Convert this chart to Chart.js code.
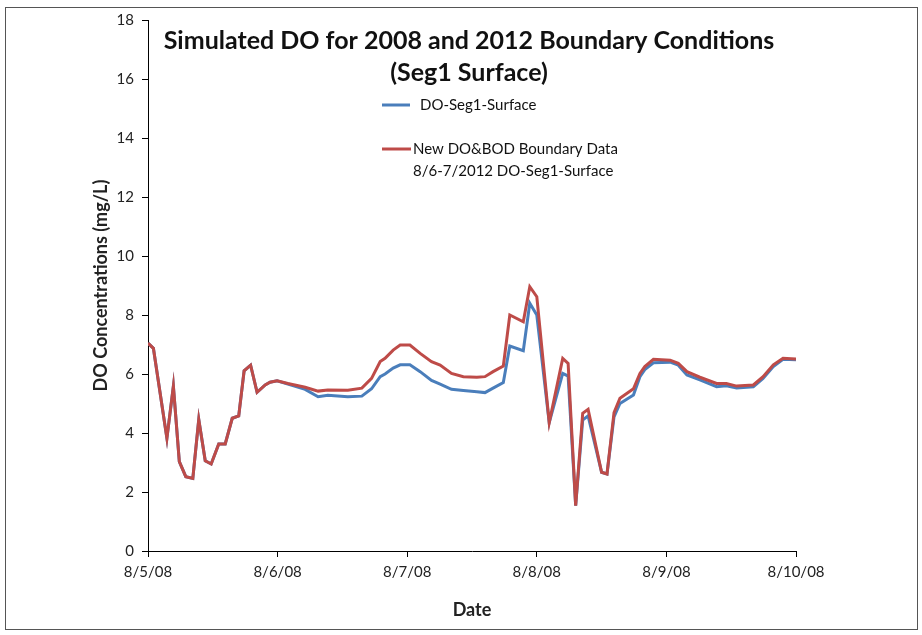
<!DOCTYPE html>
<html>
<head>
<meta charset="utf-8">
<script src="https://cdn.jsdelivr.net/npm/chart.js@4.4.1/dist/chart.umd.min.js"></script>
<style>
  html, body { margin: 0; padding: 0; background: #fff; }
  canvas { display: block; }
</style>
</head>
<body>
<canvas id="doChart" width="922" height="635"></canvas>
<script>
// hours after 8/5/08 00:00, shared by both series
const hours = [0, 1.0, 3.5, 4.7, 5.8, 7.0, 8.3, 9.4, 10.6, 11.7, 13.1, 14.3, 15.6, 16.8, 17.8, 19.0, 20.2,
  21.7, 22.6, 23.9, 25.9, 29.1, 31.5, 33.3, 37.0, 39.6, 41.4, 43.0, 43.9, 45.4, 46.7, 48.5, 50.4,
  52.5, 54.1, 56.2, 58.4, 60.9, 62.4, 63.9, 65.8, 67.0, 69.5, 70.7, 72.0, 74.3, 76.8, 77.8, 79.2,
  80.5, 81.5, 84.0, 85.0, 86.3, 87.4, 89.9, 91.1, 92.0, 93.6, 96.7, 98.2, 99.8, 102.2, 105.3,
  107.1, 109.0, 112.1, 113.9, 115.8, 117.6, 120];

const doSeg1 = [7.05, 6.87, 3.82, 5.59, 3.03, 2.52, 2.46, 4.46, 3.06, 2.95, 3.63, 3.63, 4.5, 4.58, 6.11, 6.3, 5.38,
  5.63, 5.72, 5.77, 5.66, 5.48, 5.23, 5.28, 5.23, 5.25, 5.5, 5.91, 6.0, 6.2, 6.31, 6.31, 6.08,
  5.78, 5.66, 5.48, 5.44, 5.4, 5.37, 5.52, 5.71, 6.95, 6.79, 8.4, 8.0, 4.35, 6.02, 5.93, 1.54,
  4.44, 4.58, 2.67, 2.61, 4.55, 5.0, 5.29, 5.91, 6.15, 6.38, 6.4, 6.3, 5.97, 5.8, 5.57,
  5.6, 5.53, 5.57, 5.85, 6.25, 6.5, 6.48];

const doSeg1New = [7.05, 6.87, 3.82, 5.59, 3.03, 2.52, 2.46, 4.46, 3.06, 2.95, 3.63, 3.63, 4.5, 4.58, 6.11, 6.3, 5.38,
  5.63, 5.72, 5.77, 5.68, 5.55, 5.42, 5.46, 5.45, 5.52, 5.85, 6.42, 6.53, 6.81, 6.98, 6.98, 6.7,
  6.42, 6.3, 6.02, 5.91, 5.89, 5.91, 6.08, 6.27, 8.0, 7.77, 8.96, 8.62, 4.35, 6.53, 6.36, 1.54,
  4.67, 4.8, 2.67, 2.61, 4.69, 5.18, 5.5, 6.02, 6.25, 6.5, 6.47, 6.36, 6.08, 5.89, 5.68,
  5.68, 5.59, 5.63, 5.91, 6.31, 6.53, 6.51];

const dateLabels = ['8/5/08', '8/6/08', '8/7/08', '8/8/08', '8/9/08', '8/10/08'];
const titleLines = ['Simulated DO for 2008 and 2012 Boundary Conditions', '(Seg1 Surface)'];
const seriesNames = [['DO-Seg1-Surface'], ['New DO&BOD Boundary Data', '8/6-7/2012 DO-Seg1-Surface']];

const blue = '#4a7ebb';
const red = '#be4b48';
const fontName = 'Lato, "Open Sans", sans-serif';

function toPoints(vals) {
  return hours.map(function (h, i) { return { x: h, y: vals[i] }; });
}

// frame, title and legend sit inside the plot like the Excel original
const decor = {
  id: 'decor',
  beforeDraw: function (chart) {
    const ctx = chart.ctx;
    ctx.save();
    ctx.strokeStyle = '#555';
    ctx.lineWidth = 1;
    ctx.strokeRect(5.5, 7.5, 912, 622);
    ctx.restore();
  },
  afterDraw: function (chart) {
    const ctx = chart.ctx;
    ctx.save();
    ctx.fillStyle = '#111';
    ctx.textAlign = 'center';
    ctx.textBaseline = 'middle';
    ctx.font = 'bold 25px ' + fontName;
    ctx.fillText(titleLines[0], 469, 41);
    ctx.fillText(titleLines[1], 469, 73);

    ctx.textAlign = 'left';
    ctx.font = '15px ' + fontName;
    ctx.lineWidth = 3;
    ctx.strokeStyle = blue;
    ctx.beginPath(); ctx.moveTo(382, 105); ctx.lineTo(410, 105); ctx.stroke();
    ctx.fillText(seriesNames[0][0], 420, 105);
    ctx.strokeStyle = red;
    ctx.beginPath(); ctx.moveTo(382, 149); ctx.lineTo(411, 149); ctx.stroke();
    ctx.fillText(seriesNames[1][0], 413, 149);
    ctx.fillText(seriesNames[1][1], 413, 171);
    ctx.restore();
  }
};

const ctx = document.getElementById('doChart').getContext('2d');
const myChart = new Chart(ctx, {
  type: 'line',
  data: {
    datasets: [{
      label: seriesNames[0].join(' '),
      data: toPoints(doSeg1),
      borderColor: blue,
      borderWidth: 3,
      pointRadius: 0,
      tension: 0,
      order: 2
    }, {
      label: seriesNames[1].join(' '),
      data: toPoints(doSeg1New),
      borderColor: red,
      borderWidth: 3,
      pointRadius: 0,
      tension: 0,
      order: 1
    }]
  },
  options: {
    responsive: false,
    animation: false,
    devicePixelRatio: 1,
    layout: { padding: { top: 20, right: 126, left: 0, bottom: 0 } },
    plugins: { legend: { display: false }, tooltip: { enabled: false } },
    scales: {
      x: {
        type: 'linear',
        min: 0,
        max: 120,
        afterFit: function (scale) { scale.height = 84; },
        ticks: {
          stepSize: 24,
          padding: 6,
          color: '#222',
          font: { family: fontName, size: 15 },
          maxRotation: 0,
          callback: function (v) { return dateLabels[Math.round(v / 24)]; }
        },
        grid: { drawOnChartArea: false, drawTicks: true, tickLength: 6, color: '#000' },
        border: { display: true, color: '#000', width: 1 },
        title: {
          display: true,
          text: 'Date',
          color: '#222',
          font: { family: fontName, size: 18, weight: 'bold' },
          padding: { top: 4, bottom: 14 }
        }
      },
      y: {
        min: 0,
        max: 18,
        afterFit: function (scale) { scale.width = 148; },
        ticks: {
          stepSize: 2,
          padding: 8,
          color: '#222',
          font: { family: fontName, size: 15 }
        },
        grid: { drawOnChartArea: false, drawTicks: true, tickLength: 6, color: '#000' },
        border: { display: true, color: '#000', width: 1 },
        title: {
          display: true,
          text: 'DO Concentrations (mg/L)',
          color: '#222',
          font: { family: fontName, size: 18, weight: 'bold' },
          padding: { top: 90, bottom: 0 }
        }
      }
    }
  },
  plugins: [decor]
});
</script>
</body>
</html>
